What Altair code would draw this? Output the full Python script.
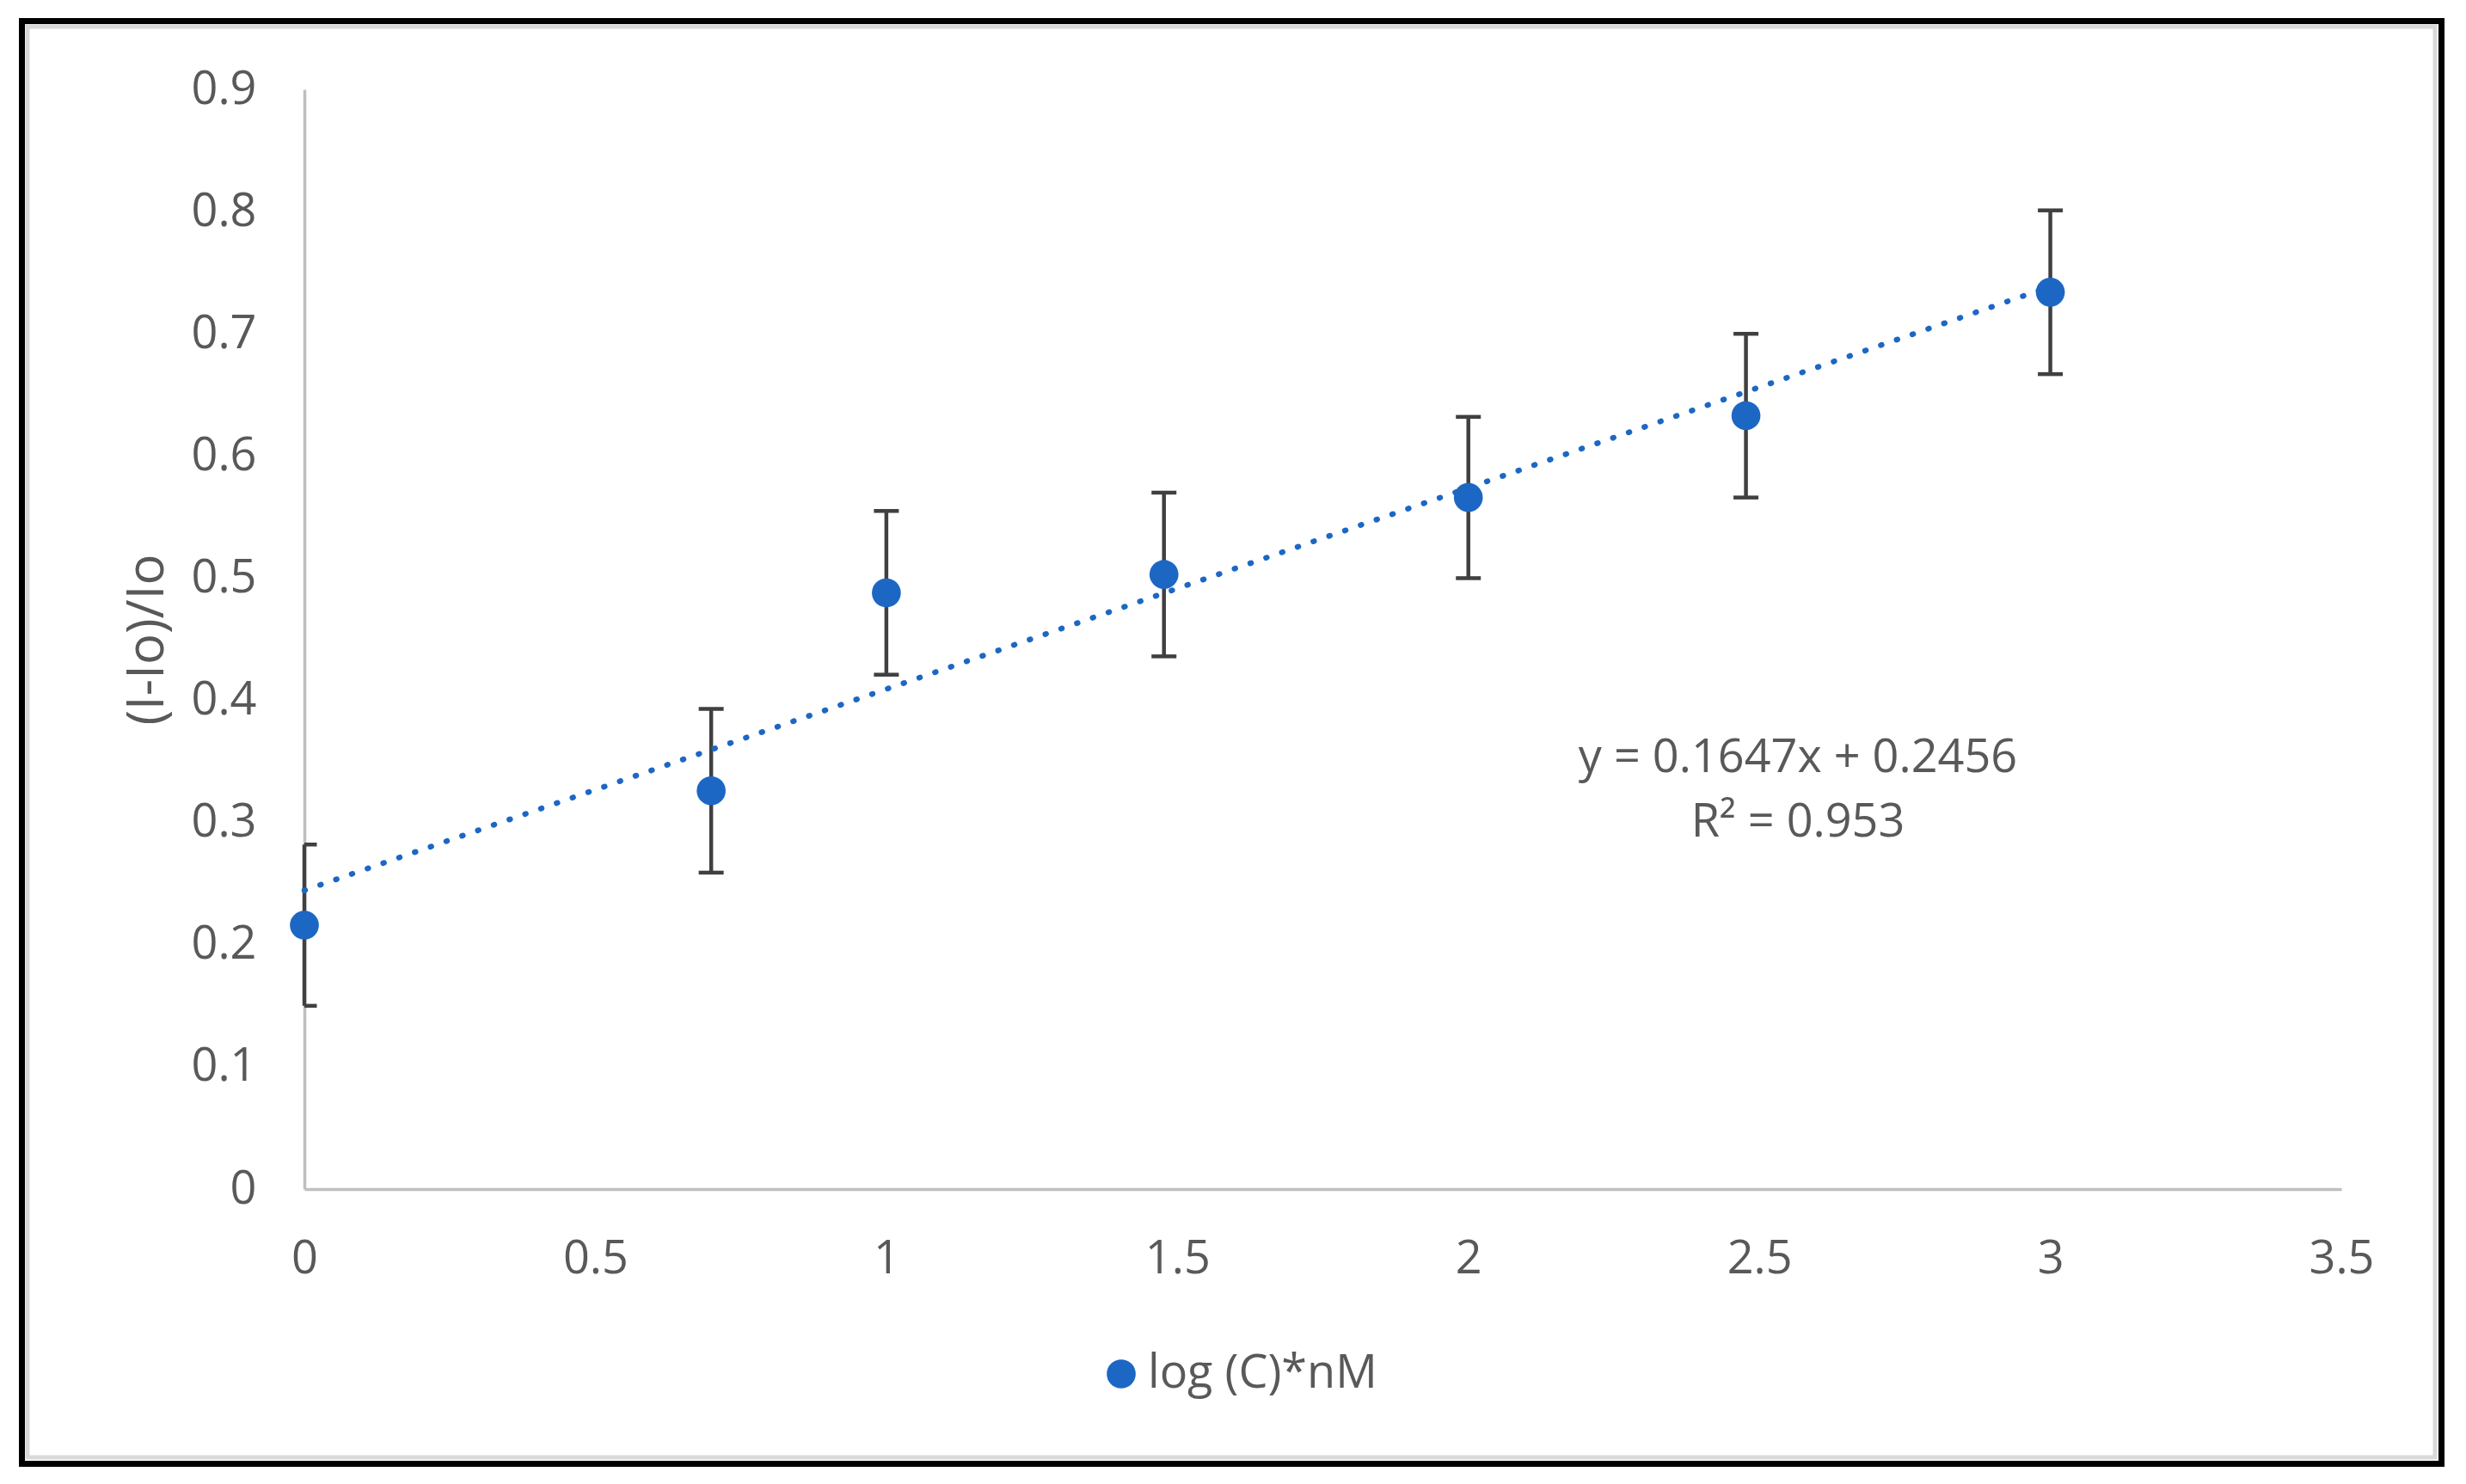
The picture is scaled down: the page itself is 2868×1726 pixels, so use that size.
import altair as alt
import pandas as pd

# ---- data ----
log_c = [0, 0.699, 1, 1.477, 2, 2.477, 3]
ratio = [0.216, 0.326, 0.488, 0.503, 0.566, 0.633, 0.734]
err = [0.066, 0.067, 0.067, 0.067, 0.066, 0.067, 0.067]
series_name = "log (C)*nM"
equation_text = "y = 0.1647x + 0.2456"
r2_text = "R\u00b2 = 0.953"
x_ticks = [0, 0.5, 1, 1.5, 2, 2.5, 3, 3.5]
y_ticks = [0, 0.1, 0.2, 0.3, 0.4, 0.5, 0.6, 0.7, 0.8, 0.9]
y_title = "(I-Io)/Io"

df = pd.DataFrame({
    "x": log_c,
    "y": ratio,
    "lo": [r - e for r, e in zip(ratio, err)],
    "hi": [r + e for r, e in zip(ratio, err)],
    "series": [series_name] * len(log_c),
})
one = pd.DataFrame({"a": [0]})

W, H = 2369, 1279
FONT = "Open Sans"
GRAY = "#595959"
BLUE = "#1c67c4"
BAR = "#404040"
AXIS = "#bfbfbf"

xs = alt.Scale(domain=[0, 3.5], nice=False, zero=False)
ys = alt.Scale(domain=[0, 0.9], nice=False)

x_axis = alt.Axis(values=x_ticks, format=".1~f", title=None, ticks=False, grid=False,
                  domainColor=AXIS, domainWidth=3.5, labelFont=FONT, labelFontSize=54,
                  labelColor=GRAY, labelPadding=54, labelFlush=False, labelOverlap=False)
y_axis = alt.Axis(values=y_ticks, format=".1~f", title=y_title, ticks=False, grid=False,
                  domainColor=AXIS, domainWidth=3.5, labelFont=FONT, labelFontSize=54,
                  labelColor=GRAY, labelPadding=56, labelFlush=False, labelOverlap=False,
                  titleFont=FONT, titleFontSize=60, titleFontWeight="normal",
                  titleColor=GRAY, titlePadding=20)

X = alt.X("x:Q", scale=xs, axis=x_axis)

border_gray = alt.Chart(one).mark_rect(fillOpacity=0, stroke="#d9d9d9", strokeWidth=5).encode(
    x=alt.value(-322), x2=alt.value(2478), y=alt.value(-73), y2=alt.value(1591))
border = alt.Chart(one).mark_rect(fillOpacity=0, stroke="black", strokeWidth=7).encode(
    x=alt.value(-328.5), x2=alt.value(2485.5), y=alt.value(-79.5), y2=alt.value(1598.5))

base = alt.Chart(df)

rules = base.mark_rule(color=BAR, strokeWidth=4.5).encode(
    x=X, y=alt.Y("lo:Q", scale=ys, axis=y_axis), y2="hi:Q")
caps_hi = base.mark_tick(orient="horizontal", size=29, thickness=4.5, color=BAR, clip=True, opacity=1).encode(
    x=X, y=alt.Y("hi:Q", scale=ys, axis=y_axis))
caps_lo = base.mark_tick(orient="horizontal", size=29, thickness=4.5, color=BAR, clip=True, opacity=1).encode(
    x=X, y=alt.Y("lo:Q", scale=ys, axis=y_axis))

points = base.mark_point(filled=True, size=1134, opacity=1, shape="circle").encode(
    x=X,
    y=alt.Y("y:Q", scale=ys, axis=y_axis),
    color=alt.Color("series:N", scale=alt.Scale(range=[BLUE]),
                    legend=alt.Legend(title=None, orient="none", legendX=923, legendY=1467,
                                      labelFont=FONT, labelFontSize=54, labelColor=GRAY,
                                      labelLimit=0,
                                      symbolSize=1134, symbolType="circle", symbolStrokeWidth=0,
                                      padding=0, labelOffset=4)),
)

trend = base.transform_regression("x", "y").mark_line(
    color=BLUE, strokeWidth=6.5, strokeDash=[1, 18.4], strokeCap="round").encode(
    x=X, y=alt.Y("y:Q", scale=ys, axis=y_axis))

eq1 = alt.Chart(one).mark_text(text=equation_text, align="center", baseline="alphabetic",
                               font=FONT, fontSize=54, color=GRAY).encode(
    x=alt.value(1737), y=alt.value(794))
eq2 = alt.Chart(one).mark_text(text=r2_text, align="center", baseline="alphabetic",
                               font=FONT, fontSize=54, color=GRAY).encode(
    x=alt.value(1737), y=alt.value(869))

chart = alt.layer(border_gray, border, rules, caps_hi, caps_lo, points, trend, eq1, eq2).properties(
    width=W, height=H,
    padding={"left": 346, "top": 96, "right": 137, "bottom": 335},
    autosize=alt.AutoSizeParams(type="none"),
    background="white",
).configure_view(stroke="transparent", strokeWidth=0)

chart.save("out.html", embed_options={"renderer": "svg", "actions": False})
